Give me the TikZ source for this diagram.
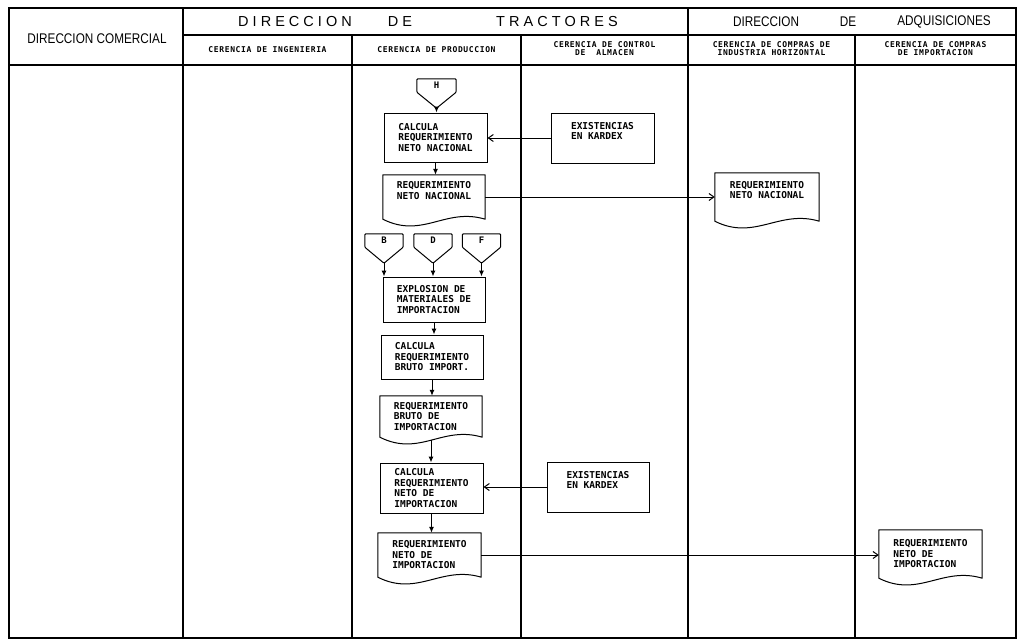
\documentclass[tikz,border=0pt]{standalone}
\usepackage{fontspec}
\setmainfont{Liberation Sans}
\newfontfamily\lettering{DejaVu Sans Mono}
\newfontfamily\spacedlettering[LetterSpace=8]{DejaVu Sans Mono}
\newfontfamily\narrowsans[FakeStretch=0.84]{Liberation Sans}
\usetikzlibrary{arrows.meta,calc}

\tikzset{
  frame/.style={line width=1.5pt, line cap=rect},
  shapeline/.style={line width=1pt, line join=round},
  boxtext/.style={font=\lettering\bfseries\fontsize{9.5}{10.5}\selectfont, align=left, inner sep=0pt},
  procbox/.style={boxtext, rectangle, draw, line width=1pt},
  docbox/.style={boxtext, rectangle},
  offpage/.style={rectangle, inner sep=0pt, minimum width=38pt, minimum height=13pt,
                  font=\lettering\bfseries\fontsize{9}{9}\selectfont},
  bigtitle/.style={font=\fontsize{14.5}{16}\selectfont, inner sep=0pt},
  narrowtitle/.style={font=\narrowsans\fontsize{14}{16}\selectfont, inner sep=0pt},
  unittitle/.style={font=\spacedlettering\bfseries\fontsize{8}{8.6}\selectfont, align=center, inner sep=0pt},
  flowdown/.style={line width=1pt, -{Latex[length=6pt,width=5pt]}},
  flowside/.style={line width=1pt, -{Straight Barb[length=5pt,width=7pt]}},
}

% document symbol: straight top and sides, wavy bottom
\newcommand\docoutline[1]{%
  \draw[shapeline] (#1.south west) -- (#1.north west) -- (#1.north east) -- (#1.south east)
    .. controls +(-40,-12) and +(40,20) .. (#1.south west) -- cycle;}
% off-page connector: box with a pointed bottom; #2 names the tip
\newcommand\offpageoutline[2]{%
  \draw[shapeline, rounded corners=1pt] (#1.south west) -- (#1.north west) -- (#1.north east) -- (#1.south east)
    -- ($(#1.south)+(0,16)$) coordinate (#2) -- cycle;}

\begin{document}
\begin{tikzpicture}[x=1pt, y=-1pt]
\useasboundingbox (0,0) rectangle (1017,640);

% ---- swimlane grid ----
\draw[frame] (9,8) rectangle (1016,638);
\draw[frame] (183,35) -- (1016,35);
\draw[frame] (9,65) -- (1016,65);
\draw[frame] (183,8) -- (183,638);
\draw[frame] (688,8) -- (688,638);
\draw[frame] (352,35) -- (352,638);
\draw[frame] (521,35) -- (521,638);
\draw[frame] (855,35) -- (855,638);

% ---- headings ----
\node[narrowtitle] (com) at (97,39) {DIRECCION COMERCIAL};
\node[bigtitle] (tr1) at (295,22) {D I R E C C I O N};
\node[bigtitle] (tr2) at (400,22) {D E};
\node[bigtitle] (tr3) at (557,22) {T R A C T O R E S};
\node[narrowtitle] (ad1) at (766,22) {DIRECCION};
\node[narrowtitle] (ad2) at (848,22) {DE};
\node[narrowtitle] (ad3) at (944,22) {ADQUISICIONES};

\node[unittitle] (g1) at (267.5,50) {CERENCIA DE INGENIERIA};
\node[unittitle] (g2) at (436.5,50) {CERENCIA DE PRODUCCION};
\node[unittitle] (g3) at (604.5,48.5) {CERENCIA DE CONTROL\\DE\ \ ALMACEN};
\node[unittitle] (g4) at (771.5,48.5) {CERENCIA DE COMPRAS DE\\INDUSTRIA HORIZONTAL};
\node[unittitle] (g5) at (935.5,48.5) {CERENCIA DE COMPRAS\\DE IMPORTACION};

% ---- off-page connectors ----
\node[offpage, minimum width=39pt] (H) at (436.5,85.5) {H};
\offpageoutline{H}{Hp}
\node[offpage] (B) at (384,240.5) {B};
\offpageoutline{B}{Bp}
\node[offpage] (D) at (433,240.5) {D};
\offpageoutline{D}{Dp}
\node[offpage] (F) at (481.5,240.5) {F};
\offpageoutline{F}{Fp}

% ---- processes ----
\node[procbox, minimum width=103pt, minimum height=49pt] (cnn) at (435.5,137.5)
  {CALCULA\\REQUERIMIENTO\\NETO NACIONAL};
\node[procbox, minimum width=103pt, minimum height=50pt] (ex1) at (602.5,138)
  {EXISTENCIAS\\EN KARDEX\\[4pt]};
\node[procbox, minimum width=102pt, minimum height=45pt] (exp) at (434,299.5)
  {EXPLOSION DE\\MATERIALES DE\\IMPORTACION};
\node[procbox, minimum width=102pt, minimum height=44pt] (cbi) at (432,357)
  {CALCULA\\REQUERIMIENTO\\BRUTO IMPORT.};
\node[procbox, minimum width=103pt, minimum height=50pt] (cni) at (431.5,488)
  {CALCULA\\REQUERIMIENTO\\NETO DE\\IMPORTACION};
\node[procbox, minimum width=102pt, minimum height=50pt] (ex2) at (598,487)
  {EXISTENCIAS\\EN KARDEX\\[4pt]};

% ---- documents ----
\node[docbox, minimum width=102pt, minimum height=44pt] (dnn) at (434,197)
  {REQUERIMIENTO\\NETO NACIONAL\\[3pt]};
\docoutline{dnn}
\node[docbox, minimum width=104pt, minimum height=48pt] (dnn2) at (767,197)
  {REQUERIMIENTO\\NETO NACIONAL\\[4pt]};
\docoutline{dnn2}
\node[docbox, minimum width=102pt, minimum height=41pt] (dbi) at (431,416.5)
  {REQUERIMIENTO\\BRUTO DE\\IMPORTACION};
\docoutline{dbi}
\node[docbox, minimum width=103pt, minimum height=44pt] (dni) at (429.5,555)
  {REQUERIMIENTO\\NETO DE\\IMPORTACION};
\docoutline{dni}
\node[docbox, minimum width=103pt, minimum height=48pt] (dni2) at (930.5,554)
  {REQUERIMIENTO\\NETO DE\\IMPORTACION};
\docoutline{dni2}

% ---- flow ----
\draw[flowdown] (Hp) -- (Hp |- cnn.north);
\draw[flowside] (ex1.west) -- (cnn.east |- ex1.west);
\draw[flowdown] (cnn.south) -- (cnn.south |- dnn.north);
\draw[flowside] (dnn.east) -- (dnn2.west |- dnn.east);
\draw[flowdown] (Bp) -- (Bp |- exp.north);
\draw[flowdown] (Dp) -- (Dp |- exp.north);
\draw[flowdown] (Fp) -- (Fp |- exp.north);
\draw[flowdown] (exp.south) -- (exp.south |- cbi.north);
\draw[flowdown] (cbi.south) -- (cbi.south |- dbi.north);
\draw[flowdown] ($(dbi.south)+(0,3)$) -- (dbi.south |- cni.north);
\draw[flowside] (ex2.west) -- (cni.east |- ex2.west);
\draw[flowdown] (cni.south) -- (cni.south |- dni.north);
\draw[flowside] (dni.east) -- (dni2.west |- dni.east);
\end{tikzpicture}
\end{document}
